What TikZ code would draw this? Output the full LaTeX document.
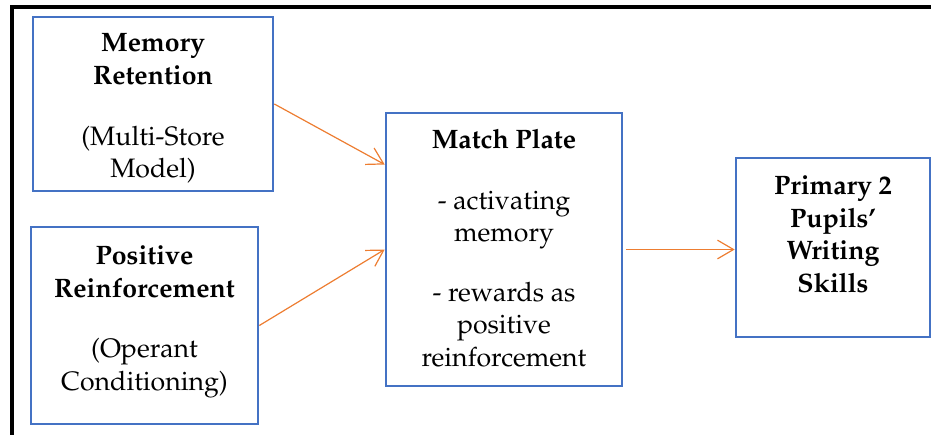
\documentclass[tikz,border=0pt]{standalone}
\usepackage[T1]{fontenc}
\usepackage{mathpazo}
\usetikzlibrary{positioning,arrows.meta}
\definecolor{boxblue}{HTML}{4472C4}
\definecolor{linkorange}{HTML}{ED7D31}

\begin{document}
\begin{tikzpicture}[
	x=0.75pt, y=-0.75pt,
	rect/.style={rectangle, draw=boxblue, line width=2pt, inner sep=0pt},
	txt/.style={align=center, inner sep=0pt, font=\fontsize{20}{24.5}\selectfont},
	link/.style={draw=linkorange, line width=0.9pt, -{Straight Barb[length=12pt,width=14pt]}}
	]
	\clip (0,0) rectangle (931,435);
	\draw[line width=2.3pt] (12,7) rectangle (960,470);

	% boxes
	\node[rect, minimum width=180pt, minimum height=130.5pt] (memory) at (153,104) {};
	\node[rect, minimum width=170.25pt, minimum height=147.75pt] (reinf) at (144.5,325.5) {};
	\node[rect, minimum width=177pt, minimum height=204.75pt] (match) at (504,249.5) {};
	\node[rect, minimum width=145.5pt, minimum height=134.25pt] (skills) at (833,247.5) {};

	% texts
	\node[txt, below=13.5pt] (memory-txt) at (memory.north) {\textbf{Memory}\\\textbf{Retention}\\[21pt](Multi-Store\\Model)};
	\node[txt, below=15pt] (reinf-txt) at (reinf.north) {\textbf{Positive}\\\textbf{Reinforcement}\\[21pt](Operant\\Conditioning)};
	\node[txt, below=13pt] (match-txt) at (match.north) {\textbf{Match Plate}\\[21pt]- activating\\memory\\[20pt]- rewards as\\positive\\reinforcement};
	\node[txt, below=14.25pt] (skills-txt) at (skills.north) {\textbf{Primary 2}\\\textbf{Pupils'}\\\textbf{Writing}\\\textbf{Skills}};

	% links
	\coordinate (match-in) at ([yshift=63.75pt]match.west);
	\draw[link] (memory.east) -- (match-in);
	\draw[link] (reinf.east) -- (match.west);
	\draw[link] ([xshift=2pt]match.east) -- (match.east -| skills.west);
\end{tikzpicture}
\end{document}
